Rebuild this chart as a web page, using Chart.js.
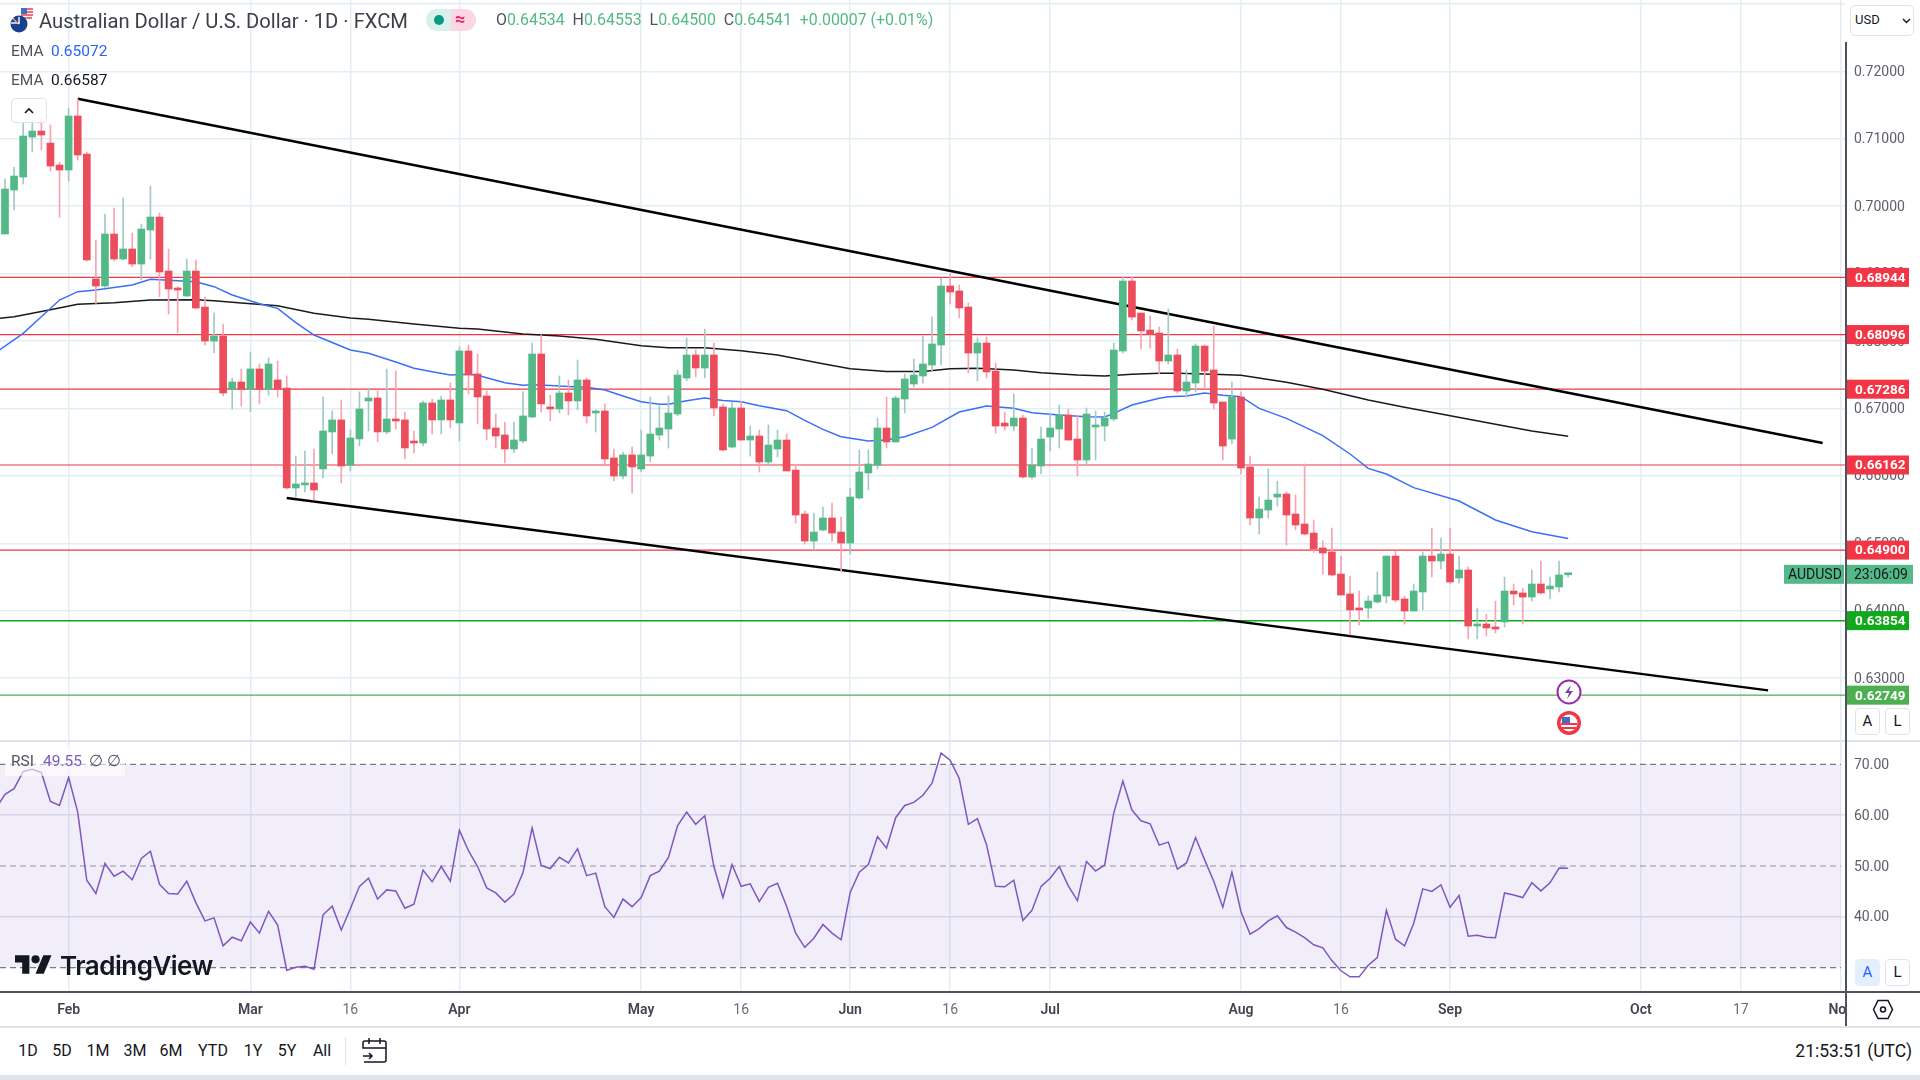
<!DOCTYPE html>
<html>
<head>
<meta charset="utf-8">
<title>AUDUSD</title>
<script src="https://cdn.jsdelivr.net/npm/chart.js@4/dist/chart.umd.min.js"></script>
<style>
  html, body { margin: 0; padding: 0; background: #fff; }
  body { width: 1920px; height: 1080px; position: relative; overflow: hidden; font-family: Roboto, sans-serif; color: #131722; }
  canvas { position: absolute; left: 0; display: block; }
  .t { position: absolute; white-space: nowrap; line-height: 20px; }
  .box { position: absolute; box-sizing: border-box; }
  .tf { position: absolute; top: 1040px; width: 40px; margin-left: -20px; text-align: center; font-size: 16px; line-height: 22px; }
  .btn { position: absolute; box-sizing: border-box; width: 25px; height: 27px; border: 1px solid #e0e3eb; border-radius: 4px; background: #fff; text-align: center; font-size: 15px; line-height: 25px; }
  svg { position: absolute; overflow: visible; }
</style>
</head>
<body>
<canvas id="priceChart" width="1920" height="740" style="top:0"></canvas>
<canvas id="rsiChart" width="1920" height="286" style="top:740px"></canvas>

<!-- pane and axis rules -->
<div class="box" style="left:1845px;top:0;width:75px;height:42px;background:#fff"></div>
<div class="box" style="left:0;top:740px;width:1920px;height:2px;background:#e0e3eb"></div>
<div class="box" style="left:1845px;top:42px;width:2px;height:984px;background:#50535e"></div>
<div class="box" style="left:0;top:991px;width:1920px;height:2px;background:#50535e"></div>
<div class="box" style="left:0;top:1026px;width:1920px;height:2px;background:#e0e3eb"></div>
<div class="box" style="left:0;top:1075px;width:1920px;height:5px;background:#e0e3eb"></div>

<!-- header -->
<svg style="left:8px;top:8px" width="28" height="26" viewBox="0 0 28 26">
  <circle cx="19" cy="6" r="6.5" fill="#f5f5f5"/>
  <path d="M14 1h11M13 4h12M13 7h12M14 10h10" stroke="#e8434f" stroke-width="1.4"/>
  <rect x="13" y="0" width="6" height="6" fill="#3f6fc4"/>
  <circle cx="11" cy="16" r="8.5" fill="#17408f"/>
  <path d="M4 10l7 6M11 9v7M3 15h8" stroke="#f4f4f4" stroke-width="1.5"/>
  <path d="M5 11l5 4" stroke="#e8434f" stroke-width="1"/>
</svg>
<div class="t" style="left:39px;top:11px;font-size:20.200px;color:#3c3f47">Australian Dollar / U.S. Dollar · 1D · FXCM</div>
<div class="box" style="left:426px;top:9px;width:25px;height:22px;background:#d9f0ec;border-radius:11px 0 0 11px"></div>
<div class="box" style="left:451px;top:9px;width:25px;height:22px;background:#fbd7e3;border-radius:0 11px 11px 0"></div>
<div class="box" style="left:434px;top:15px;width:10px;height:10px;background:#089981;border-radius:50%"></div>
<div class="t" style="left:455px;top:9px;font-size:18px;color:#e91e63;font-weight:700">≈</div>
<div class="t" style="left:496px;top:10px;font-size:15.900px;color:#53b987"><span style="color:#50535e">O</span>0.64534 <span style="color:#50535e">&nbsp;H</span>0.64553 <span style="color:#50535e">&nbsp;L</span>0.64500 <span style="color:#50535e">&nbsp;C</span>0.64541 &nbsp;+0.00007 (+0.01%)</div>
<div class="t" style="left:11px;top:41px;font-size:15.500px;color:#50535e">EMA</div>
<div class="t" style="left:51px;top:41px;font-size:15.500px;color:#2962ff">0.65072</div>
<div class="t" style="left:11px;top:70px;font-size:15.500px;color:#50535e">EMA</div>
<div class="t" style="left:51px;top:70px;font-size:15.500px;color:#131722">0.66587</div>
<div class="box" style="left:11px;top:98px;width:36px;height:25px;border:1px solid #e0e3eb;border-radius:4px;background:rgba(255,255,255,.8)"></div>
<svg style="left:24px;top:107px" width="10" height="7"><path d="M1 6l4-4 4 4" fill="none" stroke="#131722" stroke-width="1.6"/></svg>

<!-- currency selector -->
<div class="box" style="left:1850px;top:5px;width:64px;height:31px;border:1px solid #e0e3eb;border-radius:5px"></div>
<div class="t" style="left:1855px;top:10px;font-size:13px">USD</div>
<svg style="left:1902px;top:18px" width="9" height="6"><path d="M1 1l3.500 3.500L8 1" fill="none" stroke="#131722" stroke-width="1.4"/></svg>

<!-- event markers -->
<svg style="left:1556px;top:680px" width="26" height="26">
  <circle cx="13" cy="12" r="11.500" fill="#fff" stroke="#9c27b0" stroke-width="2"/>
  <path d="M15 5l-6 8h4l-2 6 6-8h-4z" fill="#7b3fa8"/>
</svg>
<svg style="left:1555px;top:710px" width="28" height="26">
  <circle cx="14" cy="13" r="12" fill="#f23645"/>
  <circle cx="14" cy="13" r="8.500" fill="#fff"/>
  <path d="M6 13h16v2H6zM7 17h14v2H7z" fill="#f23645"/>
  <path d="M7 7h8v6H7z" fill="#3f6fc4"/>
</svg>

<!-- scale mode buttons -->
<div class="btn" style="left:1855px;top:708px">A</div>
<div class="btn" style="left:1885px;top:708px">L</div>
<div class="btn" style="left:1855px;top:959px;background:#e3effd;color:#2962ff;border-color:#e3effd">A</div>
<div class="btn" style="left:1885px;top:959px">L</div>

<!-- RSI legend -->
<div class="box" style="left:5px;top:746px;width:120px;height:30px;background:rgba(255,255,255,.6)"></div>
<div class="t" style="left:11px;top:751px;font-size:15.500px;color:#50535e">RSI</div>
<div class="t" style="left:43px;top:751px;font-size:15.500px;color:#7e57c2">49.55</div>
<div class="t" style="left:89px;top:751px;font-size:15.500px;color:#50535e">∅</div>
<div class="t" style="left:107px;top:751px;font-size:15.500px;color:#50535e">∅</div>

<!-- watermark -->
<svg style="left:15px;top:951px" width="37" height="29" viewBox="0 0 36 28"><path d="M14 22H7V11H0V4h14v18zM28 22h-8l7.500-18h8L28 22z" fill="#131722"/><circle cx="20" cy="8" r="4" fill="#131722"/></svg>
<div class="t" style="left:60px;top:952px;font-size:26px;line-height:28px;font-weight:600;font-family:Inter,sans-serif;letter-spacing:-.5px;color:#131722">TradingView</div>

<!-- gear -->
<svg style="left:1873px;top:999px" width="20" height="21"><path d="M5 1.500h10l4.500 9-4.500 9H5l-4.500-9z" fill="none" stroke="#131722" stroke-width="1.500"/><circle cx="10" cy="10.500" r="2.500" fill="none" stroke="#131722" stroke-width="1.500"/></svg>

<!-- bottom toolbar -->
<div class="tf" style="left:28px">1D</div>
<div class="tf" style="left:62px">5D</div>
<div class="tf" style="left:98px">1M</div>
<div class="tf" style="left:135px">3M</div>
<div class="tf" style="left:171px">6M</div>
<div class="tf" style="left:213px">YTD</div>
<div class="tf" style="left:253px">1Y</div>
<div class="tf" style="left:287px">5Y</div>
<div class="tf" style="left:322px">All</div>
<div class="box" style="left:345px;top:1037px;width:1px;height:28px;background:#e0e3eb"></div>
<svg style="left:362px;top:1038px" width="26" height="25"><path d="M2 24h20q2 0 2-2V5q0-2-2-2H3q-2 0-2 2v5h23M7 0v6M18 0v6M1 18h9M7 15l3 3-3 3" fill="none" stroke="#131722" stroke-width="1.500"/></svg>
<div class="t" style="right:8px;top:1040px;font-size:17.500px;line-height:22px">21:53:51 (UTC)</div>

<script>
const openValues = [
  0.69587,0.70239,0.70432,0.71025,0.71114,0.70936,0.70610,0.70536,0.71337,0.70773,
  0.68920,0.68816,0.69587,0.69216,0.69365,0.69142,0.69646,0.69839,0.69038,0.68786,
  0.68668,0.69038,0.68504,0.68000,0.68074,0.67284,0.67393,0.67284,0.67586,0.67284,
  0.67423,0.67304,0.65821,0.65866,0.65895,0.66103,0.66652,0.66830,0.66157,0.66548,
  0.67111,0.67156,0.66652,0.66844,0.66830,0.66518,0.66488,0.67082,0.66830,0.67126,
  0.66785,0.67853,0.67512,0.67185,0.66711,0.66607,0.66399,0.66518,0.66874,0.67808,
  0.67022,0.66993,0.67230,0.67111,0.67423,0.66933,0.66963,0.66266,0.65999,0.66311,
  0.66102,0.66295,0.66606,0.66695,0.66918,0.67452,0.67793,0.67600,0.67793,0.67022,
  0.66428,0.67007,0.66532,0.66592,0.66206,0.66399,0.66532,0.66087,0.65435,0.65034,
  0.65198,0.65376,0.65168,0.65005,0.65672,0.66043,0.66157,0.66710,0.66503,0.67140,
  0.67363,0.67481,0.67644,0.67941,0.68816,0.68742,0.68504,0.67822,0.67971,0.67555,
  0.66784,0.66740,0.66858,0.65984,0.66147,0.66577,0.66695,0.66903,0.66547,0.66236,
  0.66725,0.66740,0.66844,0.67852,0.68890,0.68415,0.68163,0.68119,0.67704,0.67793,
  0.67259,0.67377,0.67926,0.67570,0.67096,0.66547,0.67170,0.66132,0.65376,0.65494,
  0.65687,0.65732,0.65435,0.65287,0.65153,0.64931,0.64872,0.64545,0.64249,0.64026,
  0.64041,0.64130,0.64219,0.64812,0.64175,0.63997,0.64279,0.64812,0.64738,0.64842,
  0.64486,0.64605,0.63774,0.63804,0.63759,0.63834,0.64293,0.64264,0.64204,0.64397,
  0.64323,0.64353,0.64534
];
const highValues = [
  0.70403,0.70576,0.71228,0.71278,0.71302,0.71203,0.70650,0.71451,0.71589,0.70803,
  0.69498,0.69884,0.69973,0.70121,0.69602,0.69735,0.70299,0.69898,0.69365,0.68806,
  0.69216,0.69201,0.68653,0.68415,0.68252,0.67452,0.67586,0.67838,0.67660,0.67749,
  0.67704,0.67482,0.66296,0.66370,0.66399,0.67171,0.66963,0.67126,0.66681,0.67245,
  0.67304,0.67260,0.67586,0.67556,0.66948,0.66666,0.67111,0.67141,0.67185,0.67378,
  0.67912,0.67942,0.67808,0.67260,0.66918,0.66800,0.66800,0.67245,0.67971,0.68090,
  0.67200,0.67482,0.67423,0.67719,0.67452,0.66978,0.67067,0.66399,0.66355,0.66429,
  0.66680,0.67170,0.67036,0.67185,0.67570,0.68045,0.67867,0.68178,0.67971,0.67066,
  0.67096,0.67101,0.66740,0.66680,0.66755,0.66680,0.66621,0.66161,0.65479,0.65450,
  0.65539,0.65598,0.65390,0.65820,0.66384,0.66384,0.66858,0.67170,0.67185,0.67511,
  0.67733,0.68074,0.68356,0.68935,0.68994,0.68831,0.68564,0.68045,0.68060,0.67674,
  0.66947,0.67214,0.66903,0.66414,0.66725,0.66918,0.67051,0.66992,0.66903,0.67007,
  0.66962,0.66947,0.67971,0.68949,0.68949,0.68415,0.68371,0.68208,0.68475,0.67882,
  0.67570,0.67956,0.67941,0.68223,0.67096,0.67392,0.67244,0.66295,0.65687,0.66102,
  0.65924,0.65761,0.65717,0.66177,0.65346,0.65035,0.65228,0.64812,0.64516,0.64293,
  0.64219,0.64575,0.64812,0.64887,0.64219,0.64397,0.64872,0.65228,0.65079,0.65228,
  0.64812,0.64649,0.64041,0.63952,0.64145,0.64501,0.64397,0.64338,0.64605,0.64738,
  0.64501,0.64738,0.64553
];
const lowValues = [
  0.69587,0.69943,0.70328,0.70803,0.70833,0.70521,0.69839,0.70373,0.70684,0.69187,
  0.68559,0.68796,0.69187,0.69201,0.69103,0.68905,0.69216,0.68658,0.68401,0.68124,
  0.68658,0.68475,0.67941,0.67827,0.67185,0.66993,0.67037,0.66953,0.67067,0.67200,
  0.67171,0.65806,0.65688,0.65762,0.65643,0.65969,0.66325,0.65895,0.66073,0.66444,
  0.66666,0.66503,0.66622,0.66696,0.66251,0.66340,0.66444,0.66622,0.66622,0.66711,
  0.66518,0.67215,0.66770,0.66533,0.66414,0.66192,0.66340,0.66488,0.66859,0.66948,
  0.66815,0.66933,0.66904,0.66978,0.66785,0.66652,0.66147,0.65925,0.65955,0.65747,
  0.66063,0.66211,0.66532,0.66414,0.66893,0.67412,0.67466,0.67452,0.66888,0.66369,
  0.66414,0.66532,0.66295,0.66058,0.66147,0.66280,0.66073,0.65301,0.64990,0.64901,
  0.65183,0.65034,0.64590,0.64842,0.65657,0.65791,0.66102,0.66414,0.66503,0.66933,
  0.67318,0.67377,0.67555,0.67644,0.68549,0.68341,0.67526,0.67407,0.67452,0.66636,
  0.66680,0.66666,0.65969,0.65954,0.66028,0.66369,0.66414,0.66532,0.65998,0.66161,
  0.66236,0.66517,0.66814,0.67822,0.68312,0.67882,0.67896,0.67511,0.67659,0.67229,
  0.67165,0.67244,0.67288,0.66992,0.66236,0.66473,0.66028,0.65272,0.65138,0.65376,
  0.65553,0.64975,0.65198,0.65124,0.64867,0.64545,0.64516,0.64234,0.63641,0.63789,
  0.63883,0.64115,0.64115,0.64130,0.63804,0.63997,0.64012,0.64501,0.64620,0.64397,
  0.64412,0.63582,0.63582,0.63626,0.63670,0.63759,0.64086,0.63804,0.64145,0.64249,
  0.64175,0.64279,0.64500
];
const closeValues = [
  0.70254,0.70447,0.71040,0.71114,0.71055,0.70595,0.70536,0.71337,0.70759,0.69201,
  0.68816,0.69587,0.69216,0.69365,0.69142,0.69661,0.69839,0.69024,0.68771,0.68757,
  0.69038,0.68490,0.68000,0.68074,0.67229,0.67393,0.67284,0.67586,0.67284,0.67660,
  0.67284,0.65821,0.65880,0.65895,0.65791,0.66666,0.66830,0.66147,0.66563,0.66993,
  0.67156,0.66652,0.66844,0.66815,0.66414,0.66488,0.67082,0.66830,0.67126,0.66830,
  0.67853,0.67497,0.67171,0.66696,0.66592,0.66399,0.66533,0.66889,0.67808,0.67067,
  0.66993,0.67230,0.67111,0.67423,0.66889,0.66963,0.66251,0.65999,0.66311,0.66133,
  0.66310,0.66621,0.66710,0.66933,0.67496,0.67793,0.67600,0.67793,0.67007,0.66384,
  0.67007,0.66532,0.66592,0.66206,0.66458,0.66532,0.66073,0.65420,0.65034,0.65168,
  0.65376,0.65153,0.65005,0.65687,0.66058,0.66176,0.66710,0.66503,0.67155,0.67437,
  0.67496,0.67659,0.67956,0.68816,0.68727,0.68490,0.67822,0.67971,0.67541,0.66740,
  0.66740,0.66858,0.65984,0.66161,0.66547,0.66710,0.66903,0.66532,0.66236,0.66918,
  0.66755,0.66858,0.67867,0.68890,0.68356,0.68149,0.68099,0.67704,0.67793,0.67259,
  0.67392,0.67926,0.67555,0.67081,0.66443,0.67170,0.66117,0.65376,0.65509,0.65642,
  0.65731,0.65420,0.65272,0.65139,0.64916,0.64857,0.64531,0.64234,0.64012,0.64012,
  0.64145,0.64234,0.64812,0.64160,0.63997,0.64293,0.64812,0.64738,0.64842,0.64427,
  0.64605,0.63774,0.63804,0.63745,0.63730,0.64293,0.64249,0.64204,0.64397,0.64264,
  0.64367,0.64531,0.64541
];

// EMA lines, read at the bars listed in the *Bars arrays
const emaFastBars = [-1,2,4,6,8,10,14,16,19,21,23,25,28,30,32,34,38,40,43,45,47,49,51,52,55,57,58,60,62,64,66,68,70,72,73,75,77,79,81,83,86,88,90,92,95,97,99,102,105,108,111,113,116,119,121,122,124,127,128,130,132,134,136,138,141,145,148,150,152,155,160,164,168,172];
const emaFastValues = [0.67830,0.68114,0.68361,0.68608,0.68732,0.68757,0.68831,0.68915,0.68895,0.68880,0.68806,0.68682,0.68554,0.68485,0.68272,0.68089,0.67867,0.67818,0.67690,0.67596,0.67546,0.67497,0.67507,0.67492,0.67383,0.67344,0.67353,0.67339,0.67324,0.67314,0.67274,0.67185,0.67101,0.67061,0.67061,0.67115,0.67155,0.67120,0.67101,0.67041,0.66967,0.66824,0.66690,0.66582,0.66517,0.66532,0.66582,0.66720,0.66947,0.67036,0.67002,0.66938,0.66903,0.66878,0.66873,0.66928,0.67051,0.67150,0.67175,0.67185,0.67229,0.67195,0.67175,0.67002,0.66854,0.66597,0.66325,0.66112,0.66028,0.65826,0.65628,0.65346,0.65173,0.65072];
const emaSlowBars = [-1,1,5,8,12,16,21,23,26,30,34,38,40,45,50,52,57,61,65,70,73,77,81,85,90,93,97,101,104,107,111,114,118,121,124,127,129,133,136,141,145,150,154,158,164,168,172];
const emaSlowValues = [0.68330,0.68361,0.68465,0.68544,0.68569,0.68608,0.68613,0.68598,0.68564,0.68524,0.68411,0.68341,0.68322,0.68252,0.68188,0.68178,0.68104,0.68074,0.68025,0.67931,0.67901,0.67901,0.67857,0.67793,0.67664,0.67590,0.67550,0.67550,0.67590,0.67595,0.67570,0.67531,0.67496,0.67481,0.67506,0.67521,0.67521,0.67506,0.67491,0.67388,0.67284,0.67126,0.67017,0.66918,0.66765,0.66666,0.66587];

// channel drawn by hand on the chart
const upperChannelBars = [8,200];
const upperChannelValues = [0.71594,0.66488];
const lowerChannelBars = [31,194];
const lowerChannelValues = [0.65673,0.62820];

const resistanceLevels = [0.68944,0.68096,0.67286,0.66162,0.64900];
const supportLevels = [0.63854,0.62749];

// RSI, first value belongs to the bar before the first candle
const rsiValues = [
  61.3,64.1,65.2,68.6,69.0,68.4,62.7,61.9,67.4,60.6,47.2,
  44.6,50.5,48.0,49.0,47.3,51.5,52.9,46.4,44.6,44.5,
  47.0,42.8,39.2,39.8,34.3,36.0,35.3,39.0,36.8,41.1,
  38.4,29.5,30.1,30.3,29.7,40.4,42.1,37.4,41.6,46.0,
  47.6,43.5,45.3,45.1,41.7,42.5,49.2,46.9,49.9,47.0,
  57.0,53.0,49.9,45.7,44.7,42.9,44.5,48.7,57.5,50.1,
  49.5,51.7,50.6,53.4,48.1,48.6,42.0,39.9,43.5,42.0,
  43.8,48.1,49.0,51.7,57.9,60.6,58.2,59.9,49.9,43.8,
  50.3,46.0,46.5,43.0,45.8,46.6,42.1,36.8,34.0,35.8,
  38.5,36.8,35.5,44.8,48.8,50.3,55.8,53.5,59.5,61.9,
  62.5,63.9,66.3,72.2,70.8,67.2,58.2,59.3,54.2,46.0,
  45.9,47.2,39.3,41.3,46.0,47.6,49.9,46.1,43.2,50.9,
  49.0,50.2,60.4,66.7,61.0,58.9,58.3,54.1,54.7,49.4,
  50.6,55.6,51.2,47.0,41.9,48.8,41.0,36.6,37.7,39.2,
  40.2,37.9,37.0,35.9,34.5,33.9,31.4,29.4,28.2,28.2,
  30.5,32.0,41.3,35.6,34.3,38.7,45.5,45.0,46.3,41.9,
  44.2,36.2,36.4,36.0,35.9,44.7,44.3,43.8,46.7,45.1,
  46.7,49.6,49.55
];
const rsiLevels = [70,50,30];

// axes
const priceTicks = [0.73,0.72,0.71,0.70,0.69,0.68,0.67,0.66,0.65,0.64,0.63];
const rsiTicks = [70,60,50,40,30];
const rsiTickLabels = ['70.00','60.00','50.00','40.00',''];
const dateTickBars = [7,27,38,50,70,81,93,104,115,136,147,159,180,191,202];
const dateTickLabels = ['Feb','Mar','16','Apr','May','16','Jun','16','Jul','Aug','16','Sep','Oct','17','Nov'];

const lastPrice = closeValues[closeValues.length - 1];
const firstBar = -0.55;
const lastBar = 202.46;
const bodyUp = '#53b987';
const bodyDown = '#eb4d5c';
const wickUp = '#a3c9c6';
const wickDown = '#f7a3b0';
const gridColor = '#e4edf3';
const axisFont = 'Roboto, sans-serif';

function lineSet(xs, ys, color, width, order, extra) {
  return Object.assign({
    type: 'line',
    data: xs.map((x, i) => ({ x: x, y: ys[i] })),
    borderColor: color,
    borderWidth: width,
    pointRadius: 0,
    tension: 0,
    fill: false,
    order: order
  }, extra || {});
}

function levelSet(value, color, width) {
  return lineSet([firstBar, lastBar], [value, value], color, width, 6);
}

// the tick labels must not push the plot area in from the canvas edges
function dropPadding(axis) {
  axis.paddingTop = 0;
  axis.paddingBottom = 0;
  axis.paddingLeft = 0;
  axis.paddingRight = 0;
}

const candleWicks = {
  type: 'bar',
  data: highValues.map((h, i) => ({ x: i, y: [lowValues[i], h] })),
  backgroundColor: closeValues.map((c, i) => c >= openValues[i] ? wickUp : wickDown),
  barThickness: 1,
  grouped: false,
  order: 2
};
const candleBodies = {
  type: 'bar',
  data: openValues.map((o, i) => ({ x: i, y: [Math.min(o, closeValues[i]), Math.max(o, closeValues[i])] })),
  backgroundColor: closeValues.map((c, i) => c >= openValues[i] ? bodyUp : bodyDown),
  barThickness: 7,
  minBarLength: 2,
  grouped: false,
  order: 1
};

function tag(ctx, text, yPx, left, width, color, textColor, font, inset) {
  ctx.fillStyle = color;
  ctx.fillRect(left, yPx - 9.5, width, 19);
  ctx.fillStyle = textColor;
  ctx.font = font;
  ctx.textAlign = 'left';
  ctx.textBaseline = 'middle';
  ctx.fillText(text, left + inset, yPx + 1);
}

// price tags on the axis, placed through the y scale
const priceTags = {
  id: 'priceTags',
  afterDraw(chart) {
    const y = chart.scales.y;
    const ctx = chart.ctx;
    const bold = '700 13.5px ' + axisFont;
    const plain = '14px ' + axisFont;
    resistanceLevels.forEach(v => tag(ctx, v.toFixed(5), y.getPixelForValue(v), 1845, 64, '#f23645', '#fff', bold, 10));
    tag(ctx, supportLevels[0].toFixed(5), y.getPixelForValue(supportLevels[0]), 1845, 64, '#12a81b', '#fff', bold, 10);
    tag(ctx, supportLevels[1].toFixed(5), y.getPixelForValue(supportLevels[1]), 1845, 64, '#4caf50', '#fff', bold, 10);
    const py = y.getPixelForValue(lastPrice);
    tag(ctx, 'AUDUSD', py, 1784, 60, bodyUp, '#131722', plain, 4);
    tag(ctx, '23:06:09', py, 1845, 68, bodyUp, '#131722', plain, 9);
  }
};

// the date axis stops at the price axis, the last label is cut there
const cutAxisEnd = {
  id: 'cutAxisEnd',
  afterDraw(chart) {
    chart.ctx.fillStyle = '#fff';
    chart.ctx.fillRect(chart.chartArea.right, chart.chartArea.bottom + 3, 75, 35);
  }
};

const priceChart = new Chart(document.getElementById('priceChart'), {
  type: 'bar',
  data: {
    datasets: [
      candleWicks,
      candleBodies,
      lineSet(emaFastBars, emaFastValues, '#3a6ff7', 1.5, 4),
      lineSet(emaSlowBars, emaSlowValues, '#1a1a1a', 1.5, 4),
      ...resistanceLevels.map(v => levelSet(v, '#f23645', 1.2)),
      levelSet(supportLevels[0], '#12a81b', 1.5),
      levelSet(supportLevels[1], '#4caf50', 1.2),
      lineSet(upperChannelBars, upperChannelValues, '#000', 2.5, 3),
      lineSet(lowerChannelBars, lowerChannelValues, '#000', 2.5, 3)
    ]
  },
  options: {
    responsive: false,
    animation: false,
    layout: { padding: 0 },
    plugins: { legend: { display: false }, tooltip: { enabled: false } },
    scales: {
      x: {
        type: 'linear',
        min: firstBar,
        max: lastBar,
        offset: false,
        afterBuildTicks: axis => { axis.ticks = dateTickBars.map(v => ({ value: v })); },
        afterFit: axis => { axis.height = 0; dropPadding(axis); },
        ticks: { display: false },
        border: { display: false },
        grid: { offset: false, color: gridColor, lineWidth: 1.5, drawTicks: false }
      },
      y: {
        position: 'right',
        min: 0.62084,
        max: 0.73057,
        afterBuildTicks: axis => { axis.ticks = priceTicks.map(v => ({ value: v })); },
        afterFit: axis => { axis.width = 75; dropPadding(axis); },
        ticks: {
          padding: 9,
          labelOffset: 1,
          color: '#5d606b',
          font: { family: axisFont, size: 14 },
          callback: v => v.toFixed(5)
        },
        border: { display: false },
        grid: { color: gridColor, lineWidth: 1.5, drawTicks: false }
      }
    }
  },
  plugins: [priceTags]
});

const rsiChart = new Chart(document.getElementById('rsiChart'), {
  type: 'line',
  data: {
    datasets: [
      lineSet([firstBar, 202], [rsiLevels[0], rsiLevels[0]], '#787b86', 1.2, 3, {
        borderDash: [6, 4],
        fill: { target: { value: rsiLevels[2] } },
        backgroundColor: 'rgba(126, 87, 194, 0.1)'
      }),
      lineSet([firstBar, 202], [rsiLevels[1], rsiLevels[1]], '#9598a1', 1.2, 3, { borderDash: [6, 4] }),
      lineSet([firstBar, 202], [rsiLevels[2], rsiLevels[2]], '#787b86', 1.2, 3, { borderDash: [6, 4] }),
      lineSet(rsiValues.map((v, i) => i - 1), rsiValues, '#7e57c2', 1.5, 1)
    ]
  },
  options: {
    responsive: false,
    animation: false,
    layout: { padding: { top: 1 } },
    plugins: { legend: { display: false }, tooltip: { enabled: false } },
    scales: {
      x: {
        type: 'linear',
        min: firstBar,
        max: lastBar,
        offset: false,
        afterBuildTicks: axis => { axis.ticks = dateTickBars.map(v => ({ value: v })); },
        afterFit: axis => { axis.height = 35; dropPadding(axis); },
        ticks: {
          autoSkip: false,
          maxRotation: 0,
          padding: 11,
          color: ctx => /\d/.test(dateTickLabels[ctx.index]) ? '#6a6d78' : '#42454f',
          font: ctx => ({ family: axisFont, size: 14, weight: /\d/.test(dateTickLabels[ctx.index]) ? 400 : 600 }),
          callback: (v, i) => dateTickLabels[i]
        },
        border: { display: false },
        grid: { offset: false, color: gridColor, lineWidth: 1.5, drawTicks: false }
      },
      y: {
        position: 'right',
        min: 25.42,
        max: 74.58,
        afterBuildTicks: axis => { axis.ticks = rsiTicks.map(v => ({ value: v })); },
        afterFit: axis => { axis.width = 75; dropPadding(axis); },
        ticks: {
          padding: 9,
          labelOffset: 1,
          color: '#5d606b',
          font: { family: axisFont, size: 14 },
          callback: (v, i) => rsiTickLabels[i]
        },
        border: { display: false },
        grid: {
          drawTicks: false,
          lineWidth: 1.5,
          color: ctx => rsiLevels.includes(ctx.tick.value) ? 'transparent' : '#e0e3eb'
        }
      }
    }
  },
  plugins: [cutAxisEnd]
});
</script>
</body>
</html>
